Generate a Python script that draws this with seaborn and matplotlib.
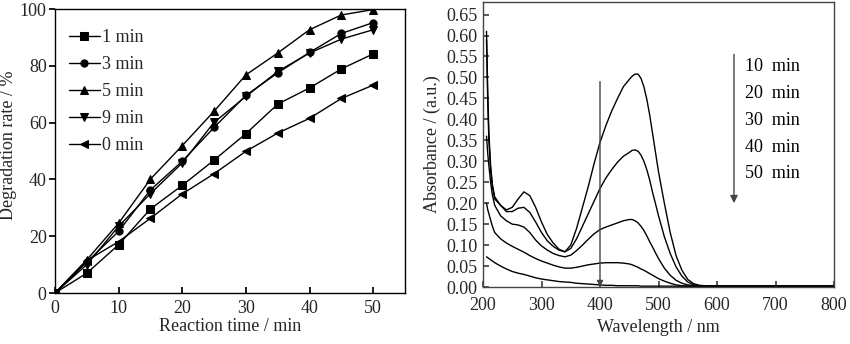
import numpy as np
import pandas as pd
import seaborn as sns
import matplotlib
matplotlib.use("Agg")
import matplotlib.pyplot as plt

sns.set_theme(style="ticks")
plt.rcParams['font.family'] = ['Liberation Serif', 'DejaVu Serif']
plt.rcParams['mathtext.fontset'] = 'stix'

# ---------------- Left panel data ----------------
time_min = [0, 5, 10, 15, 20, 25, 30, 35, 40, 45, 50]
series_labels = ["1 min", "3 min", "5 min", "9 min", "0 min"]
rate_1min = [0, 7.0, 17.0, 29.6, 37.9, 46.8, 56.1, 66.5, 72.2, 78.9, 84.2]
rate_3min = [0, 10.9, 21.7, 36.3, 46.4, 58.3, 69.6, 77.5, 84.7, 91.4, 95.2]
rate_5min = [0, 11.7, 24.6, 40.1, 51.9, 64.0, 76.8, 84.5, 92.7, 97.9, 99.8]
rate_9min = [0, 10.0, 23.5, 35.0, 45.8, 60.1, 69.2, 78.0, 84.5, 89.4, 92.7]
rate_0min = [0, 11.4, 18.1, 26.3, 34.9, 42.0, 49.9, 56.3, 61.5, 68.5, 73.2]
series_markers = ["s", "o", "^", "v", "<"]

# ---------------- Right panel data ----------------
wavelength = [206, 208, 210, 213, 216, 220, 230, 240, 250, 260, 270, 280, 290, 300,
              310, 320, 330, 340, 350, 360, 370, 380, 390, 400, 410, 420, 430, 440,
              450, 455, 460, 465, 470, 475, 480, 485, 490, 495, 500,
              510, 520, 530, 540, 550, 560, 570, 580,
              590, 600, 650, 700, 750, 800]
abs_10 = [0.61, 0.47, 0.37, 0.29, 0.245, 0.215, 0.195, 0.184, 0.19, 0.21, 0.227, 0.218,
          0.19, 0.155, 0.125, 0.105, 0.09, 0.084, 0.10, 0.14, 0.19, 0.24, 0.295, 0.345,
          0.385, 0.42, 0.45, 0.478,
          0.495, 0.503, 0.508, 0.508, 0.498, 0.478, 0.448, 0.41, 0.365, 0.32, 0.275,
          0.20, 0.13, 0.075, 0.04, 0.018, 0.008, 0.004, 0.003,
          0.002, 0.002, 0.002, 0.002, 0.002, 0.002]
abs_20 = [0.59, 0.45, 0.35, 0.28, 0.24, 0.21, 0.195, 0.18, 0.18, 0.188, 0.19, 0.178,
          0.155, 0.13, 0.11, 0.097, 0.088, 0.084, 0.092, 0.115, 0.145, 0.175, 0.205, 0.235,
          0.26, 0.28, 0.298, 0.312,
          0.321, 0.326, 0.327, 0.324, 0.315, 0.30, 0.28, 0.255, 0.225, 0.198, 0.17,
          0.12, 0.08, 0.048, 0.026, 0.012, 0.005, 0.003, 0.002,
          0.002, 0.002, 0.002, 0.002, 0.002, 0.002]
abs_30 = [0.36, 0.32, 0.29, 0.25, 0.22, 0.195, 0.17, 0.158, 0.15, 0.148, 0.143, 0.13,
          0.112, 0.098, 0.088, 0.08, 0.075, 0.072, 0.076, 0.087, 0.10, 0.114, 0.127, 0.137,
          0.143, 0.148, 0.153, 0.158,
          0.161, 0.161, 0.158, 0.153, 0.145, 0.135, 0.122, 0.108, 0.095, 0.081, 0.068,
          0.045, 0.028, 0.016, 0.009, 0.005, 0.003, 0.002, 0.002,
          0.002, 0.002, 0.002, 0.002, 0.002, 0.002]
abs_40 = [0.20, 0.185, 0.175, 0.16, 0.145, 0.13, 0.115, 0.105, 0.097, 0.09, 0.083, 0.075,
          0.068, 0.062, 0.057, 0.052, 0.048, 0.045, 0.045, 0.047, 0.05, 0.053, 0.055, 0.057,
          0.058, 0.058, 0.058, 0.057,
          0.055, 0.053, 0.05, 0.047, 0.043, 0.04, 0.036, 0.032, 0.028, 0.024, 0.02,
          0.014, 0.009, 0.005, 0.003, 0.002, 0.002, 0.002, 0.002,
          0.002, 0.002, 0.002, 0.002, 0.002, 0.002]
abs_50 = [0.072, 0.07, 0.068, 0.065, 0.062, 0.058, 0.05, 0.043, 0.037, 0.033, 0.03, 0.026,
          0.022, 0.019, 0.017, 0.015, 0.013, 0.012, 0.011, 0.009, 0.008, 0.007, 0.006, 0.005,
          0.004, 0.004, 0.003, 0.003,
          0.003, 0.003, 0.003, 0.003, 0.002, 0.002, 0.002, 0.002, 0.002, 0.002, 0.002,
          0.002, 0.002, 0.002, 0.002, 0.002, 0.002, 0.002, 0.002,
          0.002, 0.002, 0.002, 0.002, 0.002, 0.002]
time_labels = ["10  min", "20  min", "30  min", "40  min", "50  min"]
label_y = [0.525, 0.461, 0.397, 0.334, 0.270]

FS = 13
fig = plt.figure(figsize=(8.5, 3.44), dpi=100)
ax1 = fig.add_axes([55/850, 51/344, 350/850, 284/344])
ax2 = fig.add_axes([483/850, 57/344, 351/850, 285/344])

# ---------- Left panel ----------
rates = [rate_1min, rate_3min, rate_5min, rate_9min, rate_0min]
for lab, vals, mk in zip(series_labels, rates, series_markers):
    sns.lineplot(x=time_min, y=vals, ax=ax1, color="black", marker=mk, markersize=5.2,
                 markeredgecolor="black", linewidth=1.0, label=lab)
ax1.set_xlim(0, 55)
ax1.set_ylim(0, 100)
ax1.set_xticks([0, 10, 20, 30, 40, 50])
ax1.set_yticks([0, 20, 40, 60, 80, 100])
ax1.set_xlabel("Reaction time / min", fontsize=FS, labelpad=1)
ax1.set_ylabel("Degradation rate / %", fontsize=FS)
ax1.yaxis.set_label_coords(-0.108, 0.52)
ax1.tick_params(axis="x", direction="in", length=4, labelsize=FS, pad=5, color="black")
ax1.tick_params(axis="y", direction="out", length=4, labelsize=FS, pad=2, color="black")
for s in ax1.spines.values():
    s.set_color("black")
    s.set_linewidth(1.0)
leg = ax1.legend(loc="upper left", frameon=False, fontsize=FS, handlelength=1.75,
                 handletextpad=0.12, labelspacing=0.56, borderaxespad=0.0,
                 bbox_to_anchor=(0.018, 0.955))

# ---------- Right panel ----------
spectra = [abs_10, abs_20, abs_30, abs_40, abs_50]
for vals in spectra:
    sns.lineplot(x=wavelength, y=vals, ax=ax2, color="black", linewidth=1.0)
ax2.set_xlim(200, 800)
ax2.set_ylim(0, 0.68)
ax2.set_xticks([200, 300, 400, 500, 600, 700, 800])
ax2.set_yticks(np.arange(0, 0.651, 0.05))
ax2.yaxis.set_major_formatter(matplotlib.ticker.FormatStrFormatter("%.2f"))
ax2.set_xlabel("Wavelength / nm", fontsize=FS, labelpad=4)
ax2.set_ylabel("Absorbance / (a.u.)", fontsize=FS, labelpad=4)
ax2.tick_params(axis="x", direction="in", length=4, labelsize=FS, pad=7, color="#444444")
ax2.tick_params(axis="y", direction="in", length=4, labelsize=FS, pad=4, color="#444444")
for s in ax2.spines.values():
    s.set_color("#444444")
    s.set_linewidth(1.0)

ax2.annotate("", xy=(400, 0.0), xytext=(400, 0.49),
             arrowprops=dict(arrowstyle="-|>", color="#444444", lw=1.0,
                             mutation_scale=9, shrinkA=0, shrinkB=0))
ax2.annotate("", xy=(629, 0.20), xytext=(629, 0.555),
             arrowprops=dict(arrowstyle="-|>", color="#444444", lw=1.0,
                             mutation_scale=11, shrinkA=0, shrinkB=0))
for t, yv in zip(time_labels, label_y):
    ax2.text(648, yv, t, fontsize=FS, va="center", ha="left", color="black")

fig.savefig("out.png", dpi=100)
